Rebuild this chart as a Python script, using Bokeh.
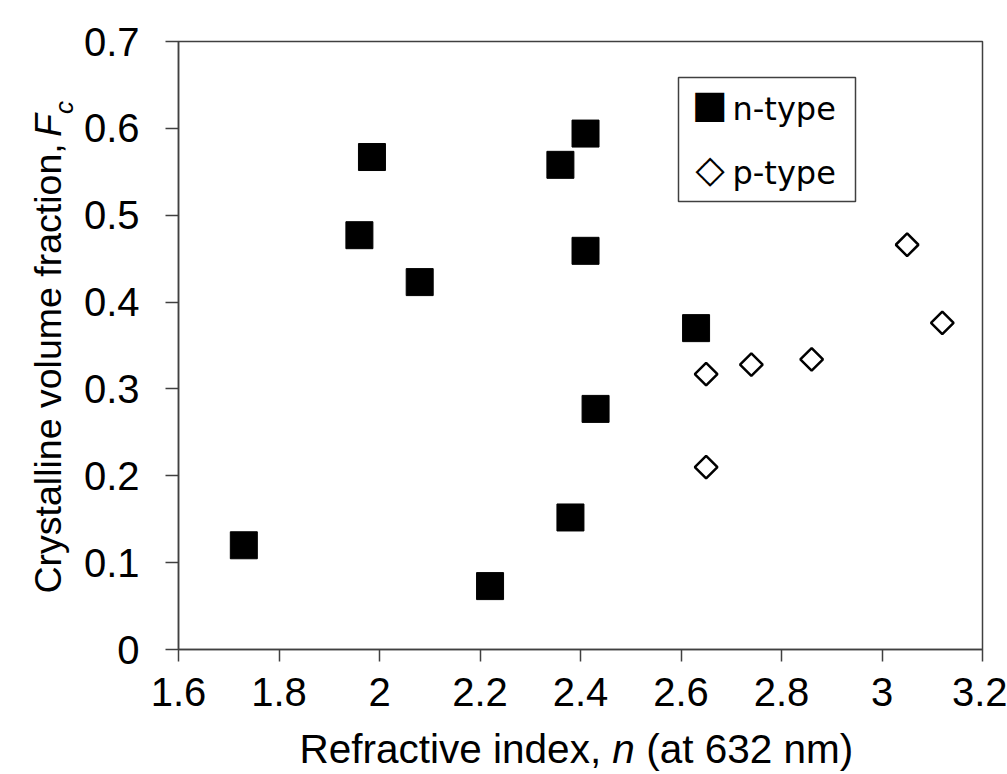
import math
from bokeh.plotting import figure
from bokeh.layouts import row, column
from bokeh.models import ColumnDataSource, FixedTicker, Label, BoxAnnotation
from bokeh.embed import file_html
from bokeh.resources import INLINE

# ---------------- data ----------------
n_type_x = [1.73, 1.96, 1.985, 2.08, 2.22, 2.36, 2.41, 2.41, 2.38, 2.43, 2.63]
n_type_y = [0.120, 0.477, 0.567, 0.423, 0.073, 0.558, 0.594, 0.459, 0.152, 0.277, 0.370]

p_type_x = [2.65, 2.65, 2.74, 2.86, 3.05, 3.12]
p_type_y = [0.317, 0.210, 0.328, 0.334, 0.466, 0.376]

x_ticks = [1.6, 1.8, 2.0, 2.2, 2.4, 2.6, 2.8, 3.0, 3.2]
x_tick_labels = ["1.6", "1.8", "2", "2.2", "2.4", "2.6", "2.8", "3", "3.2"]
y_ticks = [0.0, 0.1, 0.2, 0.3, 0.4, 0.5, 0.6, 0.7]
y_tick_labels = ["0", "0.1", "0.2", "0.3", "0.4", "0.5", "0.6", "0.7"]

x_title_parts = ["Refractive index,", "n", "(at 632 nm)"]
y_title_parts = ["Crystalline volume fraction,", "F", "c"]
legend_labels = ["n-type", "p-type"]
legend_symbols = ["\u25A0", "\u25C7"]

# ---------------- layout constants (px) ----------------
W, H = 1007, 774
OX = 80                 # width of the strip holding the y title
MH = 724                # height of the main plot
MW = W - OX
FL, FT, FR, FB = 177 - OX, 41, 982 - OX, 649
AX = "#404040"
FONT = "Liberation Sans"
LFONT = "DejaVu Sans"
BOFF = 0.336            # alphabetic baseline offset (fraction of font size)


def blank(width, height):
    f = figure(width=width, height=height, x_range=(0, 1), y_range=(0, 1),
               x_axis_type=None, y_axis_type=None, output_backend="svg",
               toolbar_location=None, min_border=0)
    f.outline_line_color = None
    f.background_fill_color = "white"
    f.border_fill_color = "white"
    return f


# ---------------- main plot ----------------
p = figure(width=MW, height=MH, x_range=(1.6, 3.2), y_range=(0, 0.7),
           output_backend="svg", toolbar_location=None,
           min_border_left=FL, min_border_right=MW - FR,
           min_border_top=FT, min_border_bottom=MH - FB)
p.background_fill_color = "white"
p.border_fill_color = "white"
p.outline_line_color = AX
p.outline_line_width = 1.5
p.xgrid.visible = False
p.ygrid.visible = False

p.xaxis.ticker = FixedTicker(ticks=x_ticks)
p.yaxis.ticker = FixedTicker(ticks=y_ticks)
p.xaxis.major_label_overrides = dict(zip(x_ticks, x_tick_labels))
p.yaxis.major_label_overrides = dict(zip(y_ticks, y_tick_labels))

for ax in (p.xaxis[0], p.yaxis[0]):
    ax.axis_line_color = AX
    ax.axis_line_width = 1.5
    ax.major_tick_line_color = AX
    ax.major_tick_line_width = 1.5
    ax.major_tick_in = 0
    ax.minor_tick_line_color = None
    ax.major_label_text_font = FONT
    ax.major_label_text_font_size = "40px"
    ax.major_label_text_color = "black"
p.xaxis.major_tick_out = 12
p.xaxis.major_label_standoff = 16
p.yaxis.major_tick_out = 13
p.yaxis.major_label_standoff = 26

src_n = ColumnDataSource(dict(x=n_type_x, y=n_type_y))
src_p = ColumnDataSource(dict(x=p_type_x, y=p_type_y))
p.scatter("x", "y", source=src_n, marker="square", size=27,
          fill_color="black", line_color="black", line_width=1)
p.scatter("x", "y", source=src_p, marker="square", angle=math.pi / 4, size=16,
          fill_color="white", line_color="black", line_width=2.5)

# legend drawn as a bordered text box (as in the reference)
p.add_layout(BoxAnnotation(left=678 - OX, right=855 - OX, top=77, bottom=201,
                           left_units="canvas", right_units="canvas",
                           top_units="canvas", bottom_units="canvas",
                           fill_color="white", fill_alpha=1.0,
                           line_color=AX, line_width=1.5, line_alpha=1.0))
for i, (sym, lab) in enumerate(zip(legend_symbols, legend_labels)):
    cy = [103.5, 168][i]
    p.add_layout(Label(x=709.5 - OX, y=cy, x_units="canvas", y_units="canvas",
                       text=sym, text_font=LFONT, text_font_size="38px",
                       text_align="center", text_baseline="middle", text_color="black"))
    p.add_layout(Label(x=732 - OX, y=119 + 64 * i - BOFF * 32, x_units="canvas", y_units="canvas",
                       text=lab, text_font=LFONT, text_font_size="32px",
                       text_align="left", text_baseline="alphabetic", text_color="black"))

# ---------------- x title strip ----------------
xt = blank(MW, H - MH)
xf = 40.5
xb = 762 - MH - BOFF * xf
x0 = 299 - OX
offs = [0, 7.725 * xf, 8.559 * xf]
styles = ["normal", "italic", "normal"]
for txt, dx, st in zip(x_title_parts, offs, styles):
    xt.add_layout(Label(x=x0 + dx, y=xb, x_units="canvas", y_units="canvas",
                        text=txt, text_font=FONT, text_font_size=f"{xf}px",
                        text_font_style=st, text_align="left",
                        text_baseline="alphabetic", text_color="black"))

# ---------------- y title strip ----------------
yt = blank(OX, H)
yf = 37.5
y0 = 593
yb = 60 - BOFF * yf
w_y = 12.281 * yf
w_F = 0.611 * yf
yt.add_layout(Label(x=yb, y=y0, x_units="canvas", y_units="canvas", angle=math.pi / 2,
                    text=y_title_parts[0], text_font=FONT, text_font_size=f"{yf}px",
                    text_align="left", text_baseline="alphabetic", text_color="black"))
yt.add_layout(Label(x=yb, y=y0 - w_y + 4, x_units="canvas", y_units="canvas", angle=math.pi / 2,
                    text=y_title_parts[1], text_font=FONT, text_font_size=f"{yf}px",
                    text_font_style="italic",
                    text_align="left", text_baseline="alphabetic", text_color="black"))
yt.add_layout(Label(x=72 - BOFF * 26, y=y0 - w_y - w_F + 4, x_units="canvas", y_units="canvas",
                    angle=math.pi / 2,
                    text=y_title_parts[2], text_font=FONT, text_font_size="26px",
                    text_font_style="italic",
                    text_align="left", text_baseline="alphabetic", text_color="black"))

layout = row(yt, column(p, xt, spacing=0), spacing=0)
open("out.html", "w").write(file_html(layout, INLINE))
